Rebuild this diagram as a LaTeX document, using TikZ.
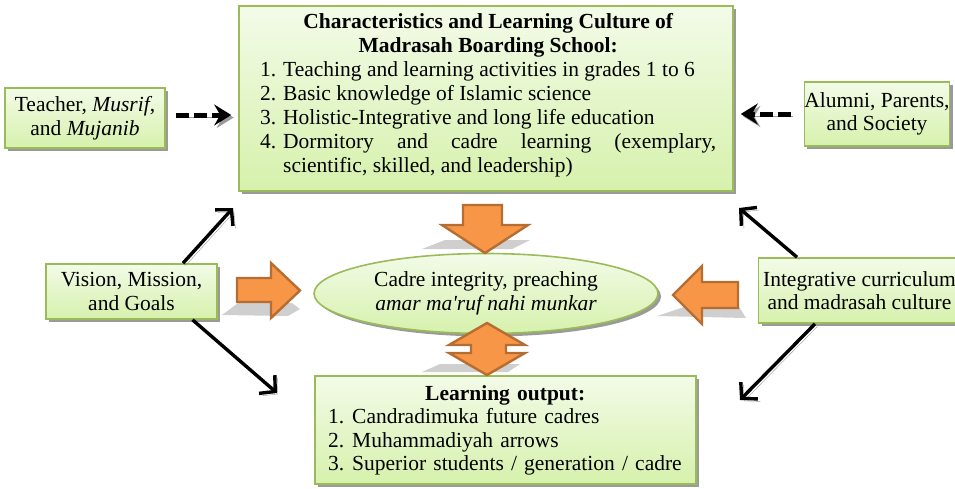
\documentclass[tikz,border=0pt]{standalone}
\usepackage{fontspec}
\setmainfont{Liberation Serif}[Ligatures=TeXOff]
\usetikzlibrary{arrows.meta,shapes.geometric}
\definecolor{boxtop}{HTML}{F3FBE8}
\definecolor{boxbot}{HTML}{D6F1AC}
\definecolor{boxline}{HTML}{9BBB59}
\definecolor{orfill}{HTML}{F79646}
\definecolor{orline}{HTML}{B66D31}
\definecolor{shd}{HTML}{9A9A9A}
\definecolor{pshd}{HTML}{CFCFCF}
\begin{document}
\begin{tikzpicture}[x=1pt,y=-1pt,
  every node/.style={inner sep=0pt, font=\fontsize{21.5}{23.5}\selectfont},
  gbox/.style={draw=boxline, line width=1.6pt, top color=boxtop, bottom color=boxbot,
     preaction={fill=shd, transform canvas={shift={(3pt,-3pt)}}}, align=center},
  blk/.style={line width=3.4pt, -{Straight Barb[length=11pt,width=24pt]},
     preaction={draw=shd, transform canvas={shift={(2.5pt,-2.5pt)}}}},
  dsh/.style={line width=5pt, dash pattern=on 13pt off 5pt,
     -{Stealth[length=17pt,width=21pt,inset=6pt]},
     preaction={draw=shd, transform canvas={shift={(2.5pt,-2.5pt)}}}},
  oarrow/.style={fill=orfill, draw=orline, line width=2.4pt, line join=miter},
  pshadow/.style={fill=pshd, draw=none},
]
\useasboundingbox (0,0) rectangle (955,488);
\clip (0,0) rectangle (955,488);

% boxes
\node[gbox, minimum width=494pt, minimum height=185pt] (top) at (486,98.5) {};
\node[anchor=north west, text width=456pt, align=justify, font=\fontsize{21.5}{24}\selectfont] (toptext) at (260,13)
{\hbadness=10000\hyphenpenalty=10000\exhyphenpenalty=10000
{\centering\bfseries Characteristics and Learning Culture of\\Madrasah Boarding School:\par}
\hangindent=23pt\hangafter=1\noindent\makebox[23pt][l]{1.}Teaching and learning activities in grades 1 to 6\par
\hangindent=23pt\hangafter=1\noindent\makebox[23pt][l]{2.}Basic knowledge of Islamic science\par
\hangindent=23pt\hangafter=1\noindent\makebox[23pt][l]{3.}Holistic-Integrative and long life education\par
\hangindent=23pt\hangafter=1\noindent\makebox[23pt][l]{4.}Dormitory and cadre learning (exemplary,\linebreak scientific, skilled, and leadership)\par};

\node[gbox, minimum width=160pt, minimum height=60pt] (teacher) at (85,118) {Teacher, \textit{Musrif},\\and \textit{Mujanib}};
\node[gbox, minimum width=142pt, minimum height=64pt] (alumni) at (877,114) {Alumni, Parents,\\and Society};
\node[gbox, minimum width=171pt, minimum height=55pt] (vision) at (131.5,291.5) {Vision, Mission,\\and Goals};
\node[gbox, minimum width=202pt, minimum height=65pt] (integ) at (859.5,290.5) {Integrative curriculum\\and madrasah culture};
\node[gbox, ellipse, minimum width=344pt, minimum height=80pt] (cadre) at (486,293.5) {Cadre integrity, preaching\\\textit{amar ma'ruf nahi munkar}};
\node[gbox, minimum width=381pt, minimum height=108pt] (out) at (505.5,430) {};
\node[anchor=north west, text width=354pt, align=left] (outtext) at (328,385)
{{\centering\bfseries Learning output:\par}
\noindent\makebox[24pt][l]{1.}Candradimuka future cadres\par
\noindent\makebox[24pt][l]{2.}Muhammadiyah arrows\par
\noindent\makebox[24pt][l]{3.}Superior students / generation / cadre\par};

% dashed arrows
\draw[dsh, shorten <=10pt, shorten >=7pt] ([yshift=3pt]teacher.east) -- ([yshift=3pt]teacher.east -| top.west);
\draw[dsh, shorten <=13pt, shorten >=7pt] (alumni.west) -- (alumni.west -| top.east);

% black arrows
\coordinate (vt) at (233,208);
\coordinate (vb) at (277,393);
\coordinate (it) at (739,208);
\coordinate (ib) at (740,400);
\draw[blk] ([xshift=51.5pt]vision.north) -- (vt);
\draw[blk] ([xshift=61pt]vision.south) -- (vb);
\draw[blk] ([xshift=-62.5pt]integ.north) -- (it);
\draw[blk] ([xshift=-44.5pt]integ.south) -- (ib);

% orange block arrows with flat shadows
\path[pshadow] (222,315) -- (238,303) -- (292,303) -- (300,309) -- (288,316) -- cycle;
\path[pshadow] (422,249) -- (445,240) -- (530,240) -- (512,249) -- cycle;
\path[pshadow] (422,372) -- (440,364) -- (520,364) -- (508,372) -- cycle;
\path[pshadow] (657,316) -- (690,305) -- (738,305) -- (746,318) -- cycle;

\draw[oarrow] (237,278) -- (271,278) -- (271,263) -- (300,290.5) -- (271,318) -- (271,302) -- (237,302) -- cycle;
\draw[oarrow] (738,282) -- (702,282) -- (702,266) -- (673,295) -- (702,324) -- (702,308) -- (738,308) -- cycle;
\draw[oarrow] (463,205) -- (502,205) -- (502,225) -- (528,225) -- (485,253) -- (442,225) -- (463,225) -- cycle;
\draw[oarrow] (487,323) -- (525,345) -- (506,345) -- (506,353) -- (525,353) -- (487,375) -- (449,353) -- (471,353) -- (471,345) -- (449,345) -- cycle;
\end{tikzpicture}
\end{document}
